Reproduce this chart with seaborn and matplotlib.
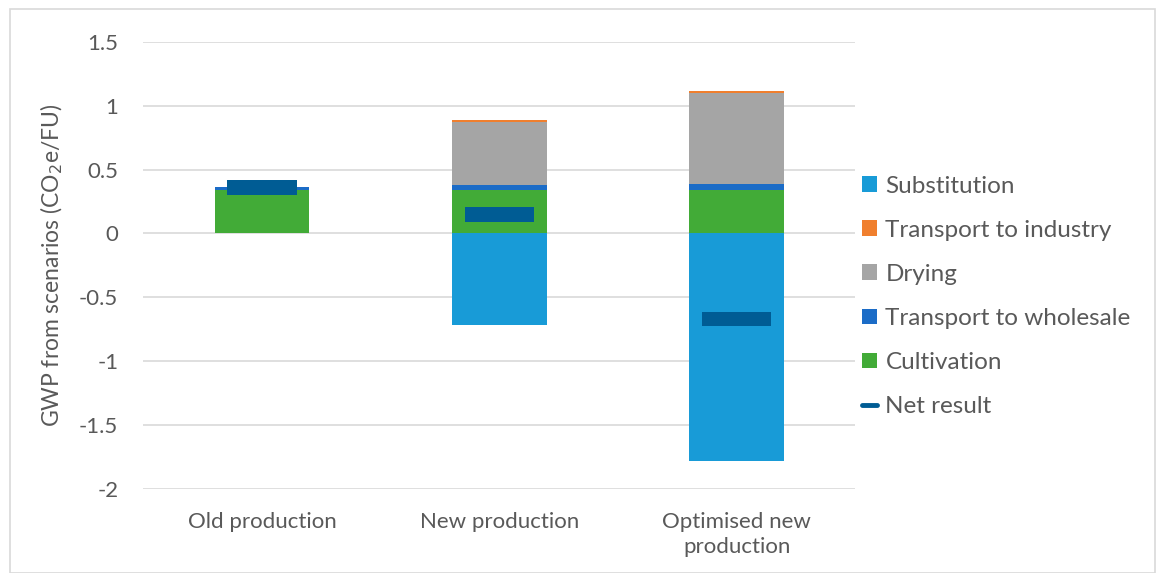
import matplotlib
matplotlib.use("Agg")
import matplotlib.pyplot as plt
import seaborn as sns
import pandas as pd
import numpy as np
from matplotlib.patches import Patch, Rectangle
from matplotlib.lines import Line2D

categories = ["Old production", "New production", "Optimised new\nproduction"]
cultivation = [0.34, 0.34, 0.34]
transport_wholesale = [0.02, 0.04, 0.05]
drying = [0.0, 0.49, 0.71]
transport_industry = [0.0, 0.015, 0.015]
substitution = [0.0, -0.72, -1.78]
net_result = [0.36, 0.15, -0.67]

colors = {
    "Substitution": "#189BD7",
    "Transport to industry": "#F07F2E",
    "Drying": "#A5A5A5",
    "Transport to wholesale": "#1B6CC7",
    "Cultivation": "#42AB37",
    "Net result": "#005C94",
}

sns.set_theme(style="white")
plt.rcParams["font.family"] = ["Lato", "DejaVu Sans"]
text_color = "#595959"

fig = plt.figure(figsize=(11.56, 5.73), dpi=100)
ax = fig.add_axes([0.124, 0.147, 0.616, 0.780])

df = pd.DataFrame({
    "category": categories,
    "cult": cultivation,
    "whol": np.add(cultivation, transport_wholesale),
    "dry": np.add(np.add(cultivation, transport_wholesale), drying),
    "ind": np.add(np.add(np.add(cultivation, transport_wholesale), drying), transport_industry),
    "sub": substitution,
    "net": net_result,
})

bw = 0.4
for col, name in [("ind", "Transport to industry"), ("dry", "Drying"),
                  ("whol", "Transport to wholesale"), ("cult", "Cultivation"),
                  ("sub", "Substitution")]:
    sns.barplot(data=df, x="category", y=col, color=colors[name], width=bw,
                saturation=1, ax=ax, zorder=2, linewidth=0)

# net result markers
rect = [(-1, -0.21), (1, -0.21), (1, 0.21), (-1, 0.21), (-1, -0.21)]
sns.scatterplot(data=df, x="category", y="net", marker=rect, s=2500,
                color=colors["Net result"], edgecolor="none", ax=ax, zorder=4)

ax.set_ylim(-2, 1.5)
ax.set_xlim(-0.5, 2.5)
ax.set_yticks([-2, -1.5, -1, -0.5, 0, 0.5, 1, 1.5])
ax.set_yticklabels(["-2", "-1.5", "-1", "-0.5", "0", "0.5", "1", "1.5"])
ax.yaxis.grid(True, color="#D9D9D9", linewidth=1.2, zorder=0)
ax.set_axisbelow(True)
for s in ax.spines.values():
    s.set_visible(False)
ax.tick_params(axis="both", length=0, labelsize=16, colors=text_color)
ax.tick_params(axis="y", pad=18)
ax.tick_params(axis="x", pad=17)
for lbl in ax.get_xticklabels():
    lbl.set_linespacing(1.3)
ax.set_xlabel("")
ax.set_ylabel("GWP from scenarios (CO$_2$e/FU)", fontsize=16.5, color=text_color, labelpad=10)

handles = [Patch(facecolor=colors[n], edgecolor="none", label=n) for n in
           ["Substitution", "Transport to industry", "Drying", "Transport to wholesale", "Cultivation"]]
handles.append(Line2D([0], [0], color=colors["Net result"], linewidth=3.5, label="Net result"))
leg = fig.legend(handles=handles, loc="center left", bbox_to_anchor=(0.727, 0.483),
                 frameon=False, fontsize=17.5, handlelength=0.6, handleheight=0.6,
                 handletextpad=0.35, labelspacing=0.95)
for t in leg.get_texts():
    t.set_color(text_color)

fig.patches.append(Rectangle((0.009, 0.0), 0.99, 0.985, transform=fig.transFigure,
                             fill=False, edgecolor="#D9D9D9", linewidth=1.2))

fig.savefig("out.png", dpi=100)
